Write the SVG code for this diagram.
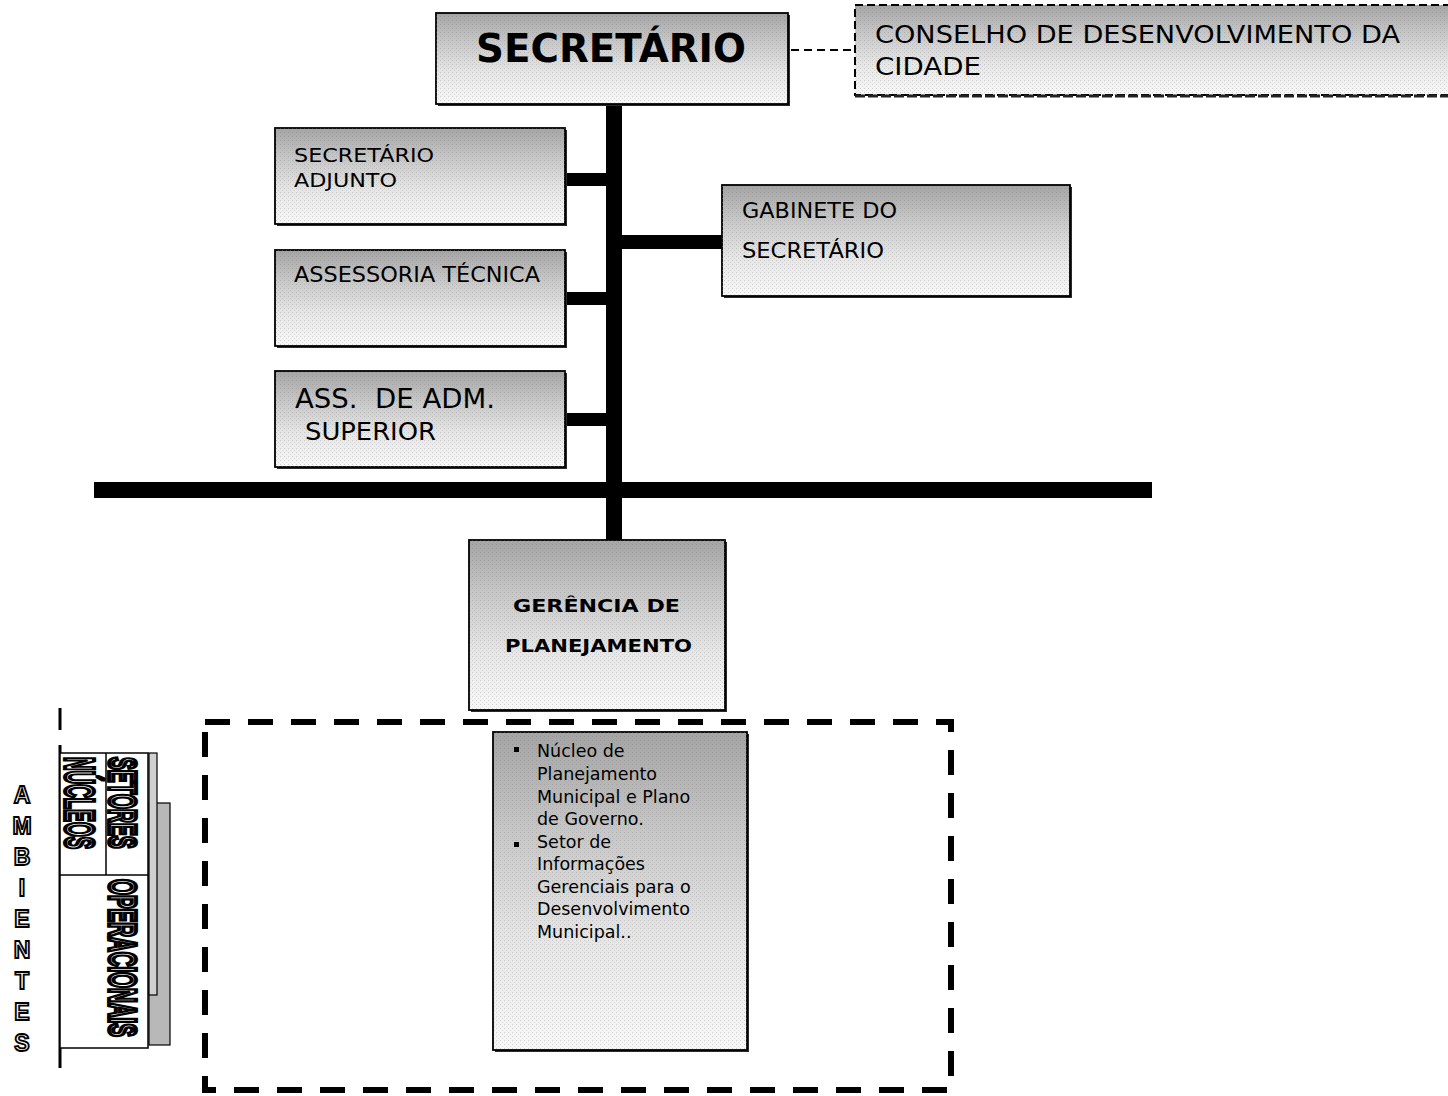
<svg xmlns="http://www.w3.org/2000/svg" width="1448" height="1096" viewBox="0 0 1448 1096">
<defs>
<linearGradient id="g" x1="0" y1="0" x2="0" y2="1">
<stop offset="0" stop-color="#a4a4a4"/>
<stop offset="0.3" stop-color="#c6c6c6"/>
<stop offset="0.65" stop-color="#e6e6e6"/>
<stop offset="1" stop-color="#f8f8f8"/>
</linearGradient>
<pattern id="dots" width="4" height="4" patternUnits="userSpaceOnUse">
<rect x="0" y="0" width="1" height="1" fill="#777"/>
<rect x="2" y="2" width="1" height="1" fill="#999"/>
</pattern>
<style>
.box{fill:url(#g);stroke:#000;stroke-width:1.8}
.dot{fill:url(#dots);opacity:0.3}
.sh{fill:#2a2a2a}
.t{font-family:"DejaVu Sans","Liberation Sans",sans-serif;fill:#000}
.b{font-weight:bold}
.bar{fill:#000}
.rot{font-family:"Liberation Sans",Arial,sans-serif;font-weight:bold;fill:#fff;stroke:#000;stroke-width:3.2;vector-effect:non-scaling-stroke}
.amb{font-family:"Liberation Sans",Arial,sans-serif;font-weight:bold;font-size:23px;fill:#fff;stroke:#000;stroke-width:1.8;text-anchor:middle}
</style>
</defs>
<rect width="1448" height="1096" fill="#fff"/>

<g id="connectors">
<rect class="bar" x="606" y="104" width="16" height="437"/>
<rect class="bar" x="565" y="173" width="42" height="13"/>
<rect class="bar" x="565" y="292" width="42" height="13"/>
<rect class="bar" x="565" y="413" width="42" height="13"/>
<rect class="bar" x="621" y="235" width="102" height="14"/>
<rect class="bar" x="94" y="482" width="1058" height="16"/>
<line x1="791" y1="50" x2="855" y2="50" stroke="#000" stroke-width="2" stroke-dasharray="8 5"/>
</g>

<g id="secretario">
<rect class="sh" x="438" y="15" width="352" height="91"/>
<rect class="box" x="436" y="13" width="352" height="91"/>
<rect class="dot" x="436" y="13" width="352" height="91"/>
<text class="t b" x="476" y="62" font-size="39" textLength="270" lengthAdjust="spacingAndGlyphs">SECRETÁRIO</text>
</g>

<g id="conselho">
<rect x="855" y="5" width="600" height="90" fill="url(#g)"/>
<rect class="dot" x="855" y="5" width="600" height="90"/>
<rect x="855" y="5" width="600" height="90" fill="none" stroke="#000" stroke-width="2" stroke-dasharray="8 4"/>
<line x1="855" y1="96" x2="1448" y2="96" stroke="#222" stroke-width="3" stroke-dasharray="10 3"/>
<text class="t" x="875" y="43" font-size="24" textLength="525" lengthAdjust="spacingAndGlyphs">CONSELHO DE DESENVOLVIMENTO DA</text>
<text class="t" x="875" y="75" font-size="24" textLength="106" lengthAdjust="spacingAndGlyphs">CIDADE</text>
</g>

<g id="adjunto">
<rect class="sh" x="277" y="130" width="290" height="96"/>
<rect class="box" x="275" y="128" width="290" height="96"/>
<rect class="dot" x="275" y="128" width="290" height="96"/>
<text class="t" x="294" y="162" font-size="20" textLength="140" lengthAdjust="spacingAndGlyphs">SECRETÁRIO</text>
<text class="t" x="294" y="187" font-size="20" textLength="103" lengthAdjust="spacingAndGlyphs">ADJUNTO</text>
</g>

<g id="assessoria">
<rect class="sh" x="277" y="252" width="290" height="96"/>
<rect class="box" x="275" y="250" width="290" height="96"/>
<rect class="dot" x="275" y="250" width="290" height="96"/>
<text class="t" x="294" y="282" font-size="21" textLength="246" lengthAdjust="spacingAndGlyphs">ASSESSORIA TÉCNICA</text>
</g>

<g id="assadm">
<rect class="sh" x="277" y="373" width="290" height="96"/>
<rect class="box" x="275" y="371" width="290" height="96"/>
<rect class="dot" x="275" y="371" width="290" height="96"/>
<text class="t" x="295" y="408" font-size="27" textLength="200" lengthAdjust="spacingAndGlyphs" xml:space="preserve">ASS.  DE ADM.</text>
<text class="t" x="305" y="440" font-size="25" textLength="131" lengthAdjust="spacingAndGlyphs">SUPERIOR</text>
</g>

<g id="gabinete">
<rect class="sh" x="724" y="187" width="348" height="111"/>
<rect class="box" x="722" y="185" width="348" height="111"/>
<rect class="dot" x="722" y="185" width="348" height="111"/>
<text class="t" x="742" y="218" font-size="21" textLength="155" lengthAdjust="spacingAndGlyphs">GABINETE DO</text>
<text class="t" x="742" y="258" font-size="21" textLength="142" lengthAdjust="spacingAndGlyphs">SECRETÁRIO</text>
</g>

<g id="gerencia">
<rect class="sh" x="471" y="542" width="256" height="170"/>
<rect class="box" x="469" y="540" width="256" height="170"/>
<rect class="dot" x="469" y="540" width="256" height="170"/>
<text class="t b" x="513" y="612" font-size="18" textLength="167" lengthAdjust="spacingAndGlyphs">GERÊNCIA DE</text>
<text class="t b" x="505" y="652" font-size="18" textLength="187" lengthAdjust="spacingAndGlyphs">PLANEJAMENTO</text>
</g>

<g id="ambiente-box">
<rect x="205" y="722" width="746" height="368" fill="none" stroke="#000" stroke-width="6" stroke-dasharray="25 18"/>
</g>

<g id="nucleos-setores">
<rect class="sh" x="495" y="734" width="254" height="318"/>
<rect class="box" x="493" y="732" width="254" height="318"/>
<rect class="dot" x="493" y="732" width="254" height="318"/>
<rect x="514" y="747" width="5" height="5" fill="#000"/>
<rect x="514" y="842" width="5" height="5" fill="#000"/>
<g class="t" font-size="17.5">
<text x="537" y="757">Núcleo de</text>
<text x="537" y="780">Planejamento</text>
<text x="537" y="803">Municipal e Plano</text>
<text x="537" y="825">de Governo.</text>
<text x="537" y="848">Setor de</text>
<text x="537" y="870">Informações</text>
<text x="537" y="893">Gerenciais para o</text>
<text x="537" y="915">Desenvolvimento</text>
<text x="537" y="938">Municipal..</text>
</g>
</g>

<g id="ambientes-legend">
<line x1="60" y1="708" x2="60" y2="730" stroke="#000" stroke-width="3"/>
<line x1="60" y1="745" x2="60" y2="1068" stroke="#000" stroke-width="3"/>
<rect x="149" y="803" width="21" height="242" fill="#b8b8b8" stroke="#000" stroke-width="1.2"/>
<rect x="149" y="753" width="8" height="242" fill="#d0d0d0" stroke="#000" stroke-width="1.2"/>
<rect x="60" y="753" width="88" height="295" fill="#fff" stroke="#000" stroke-width="1.5"/>
<line x1="60" y1="875" x2="148" y2="875" stroke="#000" stroke-width="1.5"/>
<line x1="106" y1="753" x2="106" y2="875" stroke="#000" stroke-width="1.5"/>
<text class="rot" transform="translate(65,757) rotate(90) scale(0.449,1)" font-size="42">NÚCLEOS</text>
<text class="rot" transform="translate(109,757) rotate(90) scale(0.506,1)" font-size="38">SETORES</text>
<text class="rot" transform="translate(109,879) rotate(90) scale(0.538,1)" font-size="38">OPERACIONAIS</text>
<text class="amb" x="22" y="803">A</text>
<text class="amb" x="22" y="834">M</text>
<text class="amb" x="22" y="865">B</text>
<text class="amb" x="22" y="896">I</text>
<text class="amb" x="22" y="927">E</text>
<text class="amb" x="22" y="958">N</text>
<text class="amb" x="22" y="989">T</text>
<text class="amb" x="22" y="1020">E</text>
<text class="amb" x="22" y="1051">S</text>
</g>
</svg>
